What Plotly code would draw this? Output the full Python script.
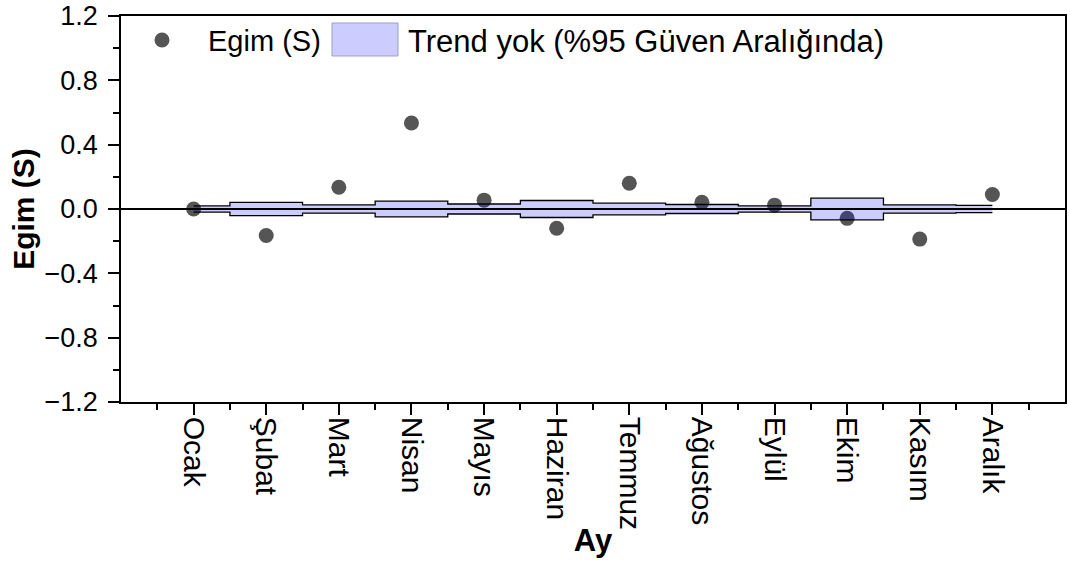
import plotly.graph_objects as go

months = ["Ocak", "Şubat", "Mart", "Nisan", "Mayıs", "Haziran",
          "Temmuz", "Ağustos", "Eylül", "Ekim", "Kasım", "Aralık"]
slope = [0.0, -0.165, 0.135, 0.535, 0.055, -0.12, 0.16, 0.042, 0.024, -0.058, -0.187, 0.09]
band_upper = [0.019, 0.041, 0.026, 0.049, 0.031, 0.053, 0.036, 0.028, 0.020, 0.067, 0.026, 0.022]
band_lower = [-0.019, -0.041, -0.026, -0.049, -0.031, -0.053, -0.036, -0.028, -0.020, -0.067, -0.026, -0.022]
y_ticks = [-1.2, -0.8, -0.4, 0.0, 0.4, 0.8, 1.2]

x = list(range(1, len(months) + 1))
FONT = "Arial, Liberation Sans, sans-serif"

fig = go.Figure()
fig.add_trace(go.Scatter(
    x=x, y=slope, mode="markers", name="Egim (S)",
    marker=dict(color="#555555", size=15, line=dict(width=0)),
    showlegend=False))
fig.add_trace(go.Scatter(
    x=x, y=band_lower, mode="lines", line=dict(color="black", width=1.3, shape="hvh"),
    showlegend=False, hoverinfo="skip"))
fig.add_trace(go.Scatter(
    x=x, y=band_upper, mode="lines", line=dict(color="black", width=1.3, shape="hvh"),
    fill="tonexty", fillcolor="rgba(0,0,255,0.2)", name="Trend yok (%95 Güven Aralığında)",
    showlegend=False, hoverinfo="skip"))

L, R, T, B = 121, 5, 16, 161
W, H = 1070, 563
pw, ph = W - L - R, H - T - B

def px(xp):
    return (xp - L) / pw

def py(yp):
    return (H - B - yp) / ph

shapes = [
    dict(type="line", xref="paper", x0=0, x1=1, yref="y", y0=0, y1=0,
         line=dict(color="black", width=1.8), layer="above"),
    dict(type="circle", xref="paper", yref="paper", xsizemode="pixel", ysizemode="pixel",
         xanchor=px(162), yanchor=py(40), x0=-7.5, x1=7.5, y0=-7.5, y1=7.5,
         fillcolor="#555555", line=dict(width=0)),
    dict(type="rect", xref="paper", yref="paper", x0=px(332), x1=px(398), y0=py(56), y1=py(23),
         fillcolor="rgba(0,0,255,0.2)", line=dict(color="rgba(150,150,200,0.9)", width=1)),
]
annotations = [
    dict(text="Egim (S)", xref="paper", yref="paper", x=px(206), y=py(41), xanchor="left",
         yanchor="middle", showarrow=False, font=dict(family=FONT, size=29, color="black")),
    dict(text="Trend yok (%95 Güven Aralığında)", xref="paper", yref="paper", x=px(406), y=py(41),
         xanchor="left", yanchor="middle", showarrow=False,
         font=dict(family=FONT, size=31, color="black")),
]

fig.update_layout(
    width=W, height=H, margin=dict(l=L, r=R, t=T, b=B, autoexpand=False),
    paper_bgcolor="white", plot_bgcolor="white",
    font=dict(family=FONT, size=27, color="black"),
    shapes=shapes, annotations=annotations, showlegend=False,
    xaxis=dict(
        range=[0, 13], tickmode="array", tickvals=x, ticktext=months, tickangle=90,
        ticks="outside", ticklen=11, tickwidth=1.5, tickcolor="black",
        showline=True, linecolor="black", linewidth=1.5, mirror=True,
        showgrid=False, zeroline=False, ticklabelstandoff=-4, ticklabeloverflow="allow",
        tickfont=dict(family=FONT, size=30),
        minor=dict(tickmode="array", tickvals=[v - 0.5 for v in x] + [len(x) + 0.5],
                   ticks="outside", ticklen=6, tickwidth=1.5, tickcolor="black"),
        title=dict(text="<b>Ay</b>", font=dict(family=FONT, size=31), standoff=0),
    ),
    yaxis=dict(
        range=[-1.2, 1.2], tickmode="array", tickvals=y_ticks, tickformat=".1f",
        ticks="outside", ticklen=11, tickwidth=1.5, tickcolor="black",
        showline=True, linecolor="black", linewidth=1.5, mirror=True,
        showgrid=False, zeroline=False, ticklabelstandoff=5, ticklabeloverflow="allow",
        tickfont=dict(family=FONT, size=27),
        minor=dict(tickmode="linear", tick0=-1.2, dtick=0.2,
                   ticks="outside", ticklen=6, tickwidth=1.5, tickcolor="black"),
        title=dict(text="<b>Egim (S)</b>", font=dict(family=FONT, size=30), standoff=1),
    ),
)

# remove the browser's default 8px body margin so the 1070x563 figure fills the window exactly
fig.write_html("out.html", config={"displayModeBar": False},
               post_script="document.body.style.margin='0';")
